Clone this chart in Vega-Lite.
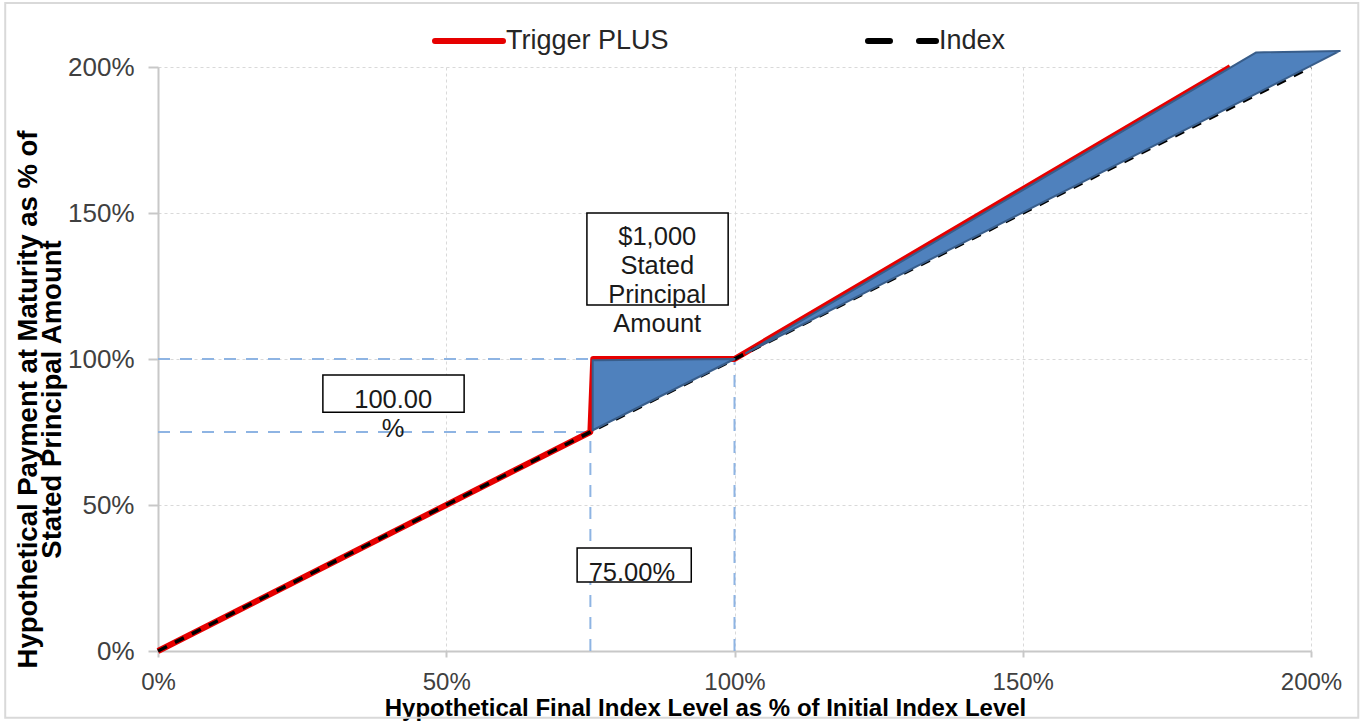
{
  "$schema": "https://vega.github.io/schema/vega-lite/v6.json",
  "width": 1153,
  "height": 584,
  "autosize": {"type": "none"},
  "padding": {"left": 158, "top": 67, "right": 53, "bottom": 77},
  "background": "white",
  "config": {
    "font": "Liberation Sans",
    "view": {"stroke": null},
    "axis": {
      "domainColor": "#C8C8C8",
      "domainWidth": 2,
      "tickColor": "#C8C8C8",
      "tickWidth": 2,
      "gridColor": "#D9D9D9",
      "gridDash": [3, 3],
      "gridWidth": 1,
      "labelFont": "Liberation Sans",
      "labelFontSize": 26,
      "labelColor": "#404040",
      "titleFont": "Liberation Sans",
      "titleFontWeight": "bold",
      "titleColor": "#000000"
    }
  },
  "datasets": {
    "frame": [{"x": -26.5, "x2": 208.2, "y": 221.9, "y2": -22.9}],
    "refs": [
      {"x": 0, "x2": 100, "y": 100, "y2": 100},
      {"x": 0, "x2": 75, "y": 75, "y2": 75},
      {"x": 75, "x2": 75, "y": 0, "y2": 75},
      {"x": 100, "x2": 100, "y": 0, "y2": 100}
    ],
    "trigger": [
      {"series": "Trigger PLUS", "o": 1, "x": 0, "y": 0},
      {"series": "Trigger PLUS", "o": 2, "x": 75, "y": 75},
      {"series": "Trigger PLUS", "o": 3, "x": 75.5, "y": 100},
      {"series": "Trigger PLUS", "o": 4, "x": 100, "y": 100},
      {"series": "Trigger PLUS", "o": 5, "x": 186, "y": 200}
    ],
    "index": [
      {"series": "Index", "o": 1, "x": 0, "y": 0},
      {"series": "Index", "o": 2, "x": 200, "y": 200}
    ],
    "shade": [
      {"part": "a", "x": 75.4, "y": 99.6, "y2": 75.6},
      {"part": "a", "x": 100, "y": 100, "y2": 100},
      {"part": "b", "x": 102, "y": 102, "y2": 102},
      {"part": "b", "x": 190.5, "y": 205, "y2": 190.9},
      {"part": "b", "x": 205, "y": 205.5, "y2": 205.5}
    ],
    "boxes": [
      {"x": 74.4, "x2": 98.9, "y": 150.0, "y2": 118.5},
      {"x": 28.6, "x2": 53.1, "y": 94.5, "y2": 81.8},
      {"x": 72.7, "x2": 92.5, "y": 35.3, "y2": 23.6}
    ],
    "notes": [
      {"label": "$1,000\nStated\nPrincipal\nAmount", "x": 86.6, "y": 141.8},
      {"label": "100.00\n%", "x": 40.8, "y": 86.0},
      {"label": "75.00%", "x": 82.2, "y": 26.7}
    ]
  },
  "layer": [
    {
      "data": {"name": "frame"},
      "mark": {"type": "rect", "fill": "white", "fillOpacity": 0, "stroke": "#D9D9D9", "strokeWidth": 2},
      "encoding": {
        "x": {
          "field": "x", "type": "quantitative",
          "scale": {"domain": [0, 200], "nice": false, "zero": false},
          "axis": {
            "values": [0, 50, 100, 150, 200],
            "labelExpr": "datum.value + '%'",
            "labelFontSize": 24,
            "tickSize": 6,
            "labelPadding": 13,
            "labelFlush": false,
            "title": "Hypothetical Final Index Level as % of Initial Index Level",
            "titleFontSize": 24,
            "titleX": 547,
            "titleY": 45,
            "titleAlign": "center",
            "titleBaseline": "top"
          }
        },
        "x2": {"field": "x2"},
        "y": {
          "field": "y", "type": "quantitative",
          "scale": {"domain": [0, 200], "nice": false, "zero": false},
          "axis": {
            "values": [0, 50, 100, 150, 200],
            "labelExpr": "datum.value + '%'",
            "tickSize": 10,
            "labelPadding": 14,
            "labelFlush": false,
            "title": ["Hypothetical Payment at Maturity as % of", "Stated Principal Amount"],
            "titleFontSize": 27.5,
            "titleX": -130,
            "titleY": 332,
            "titleAngle": -90,
            "titleAlign": "center",
            "titleBaseline": "middle",
            "titleLineHeight": 24
          }
        },
        "y2": {"field": "y2"}
      }
    },
    {
      "data": {"name": "refs"},
      "mark": {"type": "rule", "color": "#8EB4E3", "strokeWidth": 2, "strokeDash": [12, 10]},
      "encoding": {
        "x": {"field": "x", "type": "quantitative"},
        "x2": {"field": "x2"},
        "y": {"field": "y", "type": "quantitative"},
        "y2": {"field": "y2"}
      }
    },
    {
      "data": {"name": "trigger"},
      "mark": {"type": "line", "strokeWidth": 6, "strokeJoin": "round"},
      "encoding": {
        "x": {"field": "x", "type": "quantitative"},
        "y": {"field": "y", "type": "quantitative"},
        "order": {"field": "o"},
        "color": {
          "field": "series", "type": "nominal",
          "scale": {"domain": ["Trigger PLUS", "Index"], "range": ["#E60000", "#000000"]},
          "legend": {
            "title": null,
            "orient": "none",
            "legendX": 274,
            "legendY": -63,
            "direction": "horizontal",
            "symbolType": "stroke",
            "symbolSize": 4624,
            "symbolStrokeWidth": 6,
            "labelFont": "Liberation Sans",
            "labelFontSize": 27,
            "labelColor": "#262626",
            "labelOffset": 0,
            "labelLimit": 400,
            "columnPadding": 187,
            "encode": {
              "symbols": {
                "update": {
                  "strokeDash": {"signal": "datum.value === 'Index' ? [22, 29] : [1, 0]"},
                  "strokeCap": {"value": "round"},
                  "strokeWidth": {"value": 6}
                }
              }
            }
          }
        }
      }
    },
    {
      "data": {"name": "index"},
      "mark": {"type": "line", "strokeWidth": 3.5, "strokeDash": [10, 9]},
      "encoding": {
        "x": {"field": "x", "type": "quantitative"},
        "y": {"field": "y", "type": "quantitative"},
        "order": {"field": "o"},
        "color": {"field": "series", "type": "nominal"}
      }
    },
    {
      "data": {"name": "shade"},
      "mark": {"type": "area", "fill": "#4F81BD", "stroke": "#385D8A", "strokeWidth": 2, "strokeJoin": "round", "fillOpacity": 1},
      "encoding": {
        "x": {"field": "x", "type": "quantitative"},
        "y": {"field": "y", "type": "quantitative"},
        "y2": {"field": "y2"},
        "detail": {"field": "part", "type": "nominal"}
      }
    },
    {
      "data": {"name": "boxes"},
      "mark": {"type": "rect", "fill": "white", "stroke": "#000000", "strokeWidth": 1.5},
      "encoding": {
        "x": {"field": "x", "type": "quantitative"},
        "x2": {"field": "x2"},
        "y": {"field": "y", "type": "quantitative"},
        "y2": {"field": "y2"}
      }
    },
    {
      "data": {"name": "notes"},
      "mark": {"type": "text", "font": "Liberation Sans", "fontSize": 25.5, "color": "#1A1A1A", "align": "center", "baseline": "middle", "lineBreak": "\n", "lineHeight": 29},
      "encoding": {
        "x": {"field": "x", "type": "quantitative"},
        "y": {"field": "y", "type": "quantitative"},
        "text": {"field": "label", "type": "nominal"}
      }
    }
  ]
}
